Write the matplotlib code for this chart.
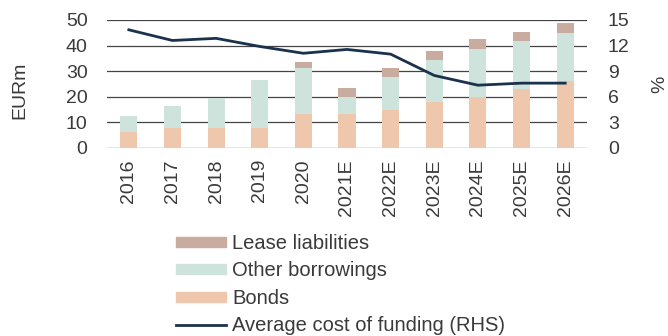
import matplotlib
matplotlib.use("Agg")
import matplotlib.pyplot as plt
import numpy as np
from matplotlib.lines import Line2D
from matplotlib.patches import Patch

years = ["2016", "2017", "2018", "2019", "2020", "2021E",
         "2022E", "2023E", "2024E", "2025E", "2026E"]
bonds = [6.3, 7.8, 7.8, 7.8, 13.3, 13.3, 14.9, 18.0, 20.0, 23.0, 26.0]
other_borrowings = [6.2, 8.5, 11.9, 18.7, 17.9, 6.8, 12.8, 16.3, 18.6, 18.8, 18.8]
lease_liabilities = [0.0, 0.0, 0.0, 0.0, 2.2, 3.4, 3.4, 3.5, 3.9, 3.6, 3.9]
avg_cost_pct = [13.85, 12.6, 12.85, 11.9, 11.1, 11.55, 11.0, 8.5, 7.36, 7.6, 7.6]

C_BONDS = "#eec7ad"
C_OTHER = "#cfe3dd"
C_LEASE = "#c9aca0"
C_LINE = "#1b324d"
C_TEXT = "#3a3a3a"

plt.rcParams["font.family"] = ["Liberation Sans", "DejaVu Sans"]
plt.rcParams["font.size"] = 14

fig = plt.figure(figsize=(6.68, 3.36), dpi=100)
ax = fig.add_axes([107 / 668, 1 - 148 / 336, 480 / 668, 128 / 336])
ax2 = ax.twinx()

x = np.arange(len(years))
w = 0.39
b = np.array(bonds)
o = np.array(other_borrowings)
l = np.array(lease_liabilities)
ax.bar(x, b, w, color=C_BONDS, zorder=3)
ax.bar(x, o, w, bottom=b, color=C_OTHER, zorder=3)
ax.bar(x, l, w, bottom=b + o, color=C_LEASE, zorder=3)

ax.set_ylim(0, 50)
ax.set_yticks(range(0, 51, 10))
ax.set_xlim(-0.5, len(years) - 0.5)
ax.set_xticks(x)
ax.set_xticklabels(years, rotation=90)
ax.yaxis.grid(True, color="#444444", lw=0.9, zorder=0)
ax.set_axisbelow(True)
ax.set_ylabel("EURm", color=C_TEXT)
ax.yaxis.set_label_coords(-79 / 480, 0.45)

ax2.plot(x, avg_cost_pct, color=C_LINE, lw=2, zorder=5)
ax2.set_ylim(0, 15)
ax2.set_yticks(range(0, 16, 3))
ax2.set_ylabel("%", color=C_TEXT)
ax2.yaxis.set_label_coords(1 + 64 / 480, 0.5)

for a in (ax, ax2):
    for s in a.spines.values():
        s.set_visible(False)
    a.tick_params(length=0, colors=C_TEXT)
ax.tick_params(axis="x", pad=8)
ax.tick_params(axis="y", pad=14)
ax2.tick_params(axis="y", pad=15)

handles = [
    Patch(color=C_LEASE, label="Lease liabilities"),
    Patch(color=C_OTHER, label="Other borrowings"),
    Patch(color=C_BONDS, label="Bonds"),
    Line2D([], [], color=C_LINE, lw=2, label="Average cost of funding (RHS)"),
]
leg = fig.legend(handles=handles, loc="upper left",
                 bbox_to_anchor=(176 / 668, 1 - 234 / 336),
                 frameon=False, fontsize=14.5,
                 handlelength=2.5, handleheight=0.4,
                 handletextpad=0.3, labelspacing=0.42, borderpad=0,
                 borderaxespad=0)
for t in leg.get_texts():
    t.set_color(C_TEXT)

fig.savefig("out.png", dpi=100)
